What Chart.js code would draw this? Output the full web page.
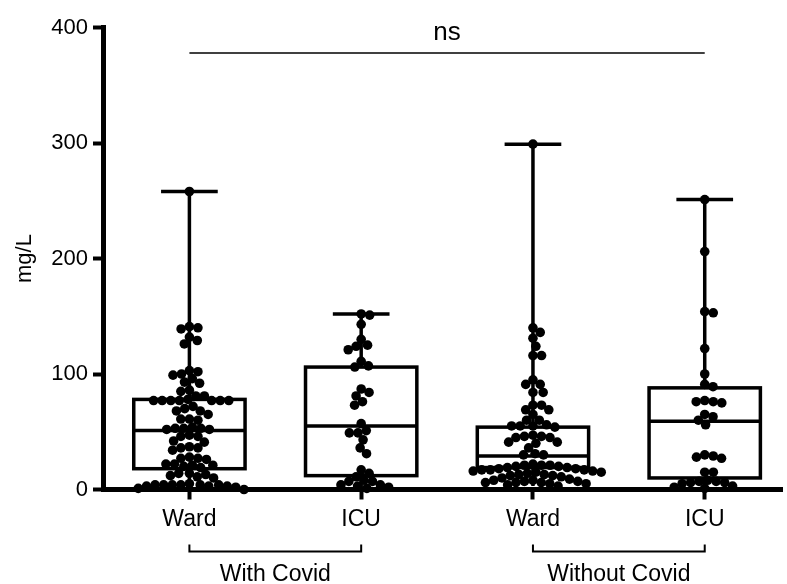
<!DOCTYPE html>
<html>
<head>
<meta charset="utf-8">
<script src="https://cdn.jsdelivr.net/npm/chart.js@4"></script>
<style>
  html, body { margin: 0; padding: 0; background: #fff; }
  #wrap { width: 787px; height: 584px; }
</style>
</head>
<body>
<div id="wrap"><canvas id="chart"></canvas></div>
<script>
const categories = ['Ward', 'ICU', 'Ward', 'ICU'];
const groupLabels = ['With Covid', 'Without Covid'];
const yTicks = [0, 100, 200, 300, 400];

// individual values (mg/L)
const wardCovid = [258, 141, 140, 139, 132, 129, 126, 103, 102, 100, 99, 96, 93, 92, 86, 85, 81, 81,
  78, 77, 77, 77, 77, 77, 77, 77, 72, 70, 68, 68, 65, 61, 61, 60, 54, 53, 53, 53, 52, 52, 47, 46,
  46, 42, 41, 37, 36, 36, 34, 28, 27, 27, 26, 22, 22, 21, 21, 20, 19, 14, 14, 13, 12, 11, 10, 5,
  4, 4, 4, 4, 4, 4, 3, 3, 3, 2, 1, 0];
const icuCovid = [152, 151, 143, 130, 125, 124, 121, 111, 107, 106, 87, 84, 81, 76, 73, 57, 51, 49,
  49, 43, 36, 31, 17, 14, 11, 8, 7, 7, 4, 4, 3, 2, 1];
const wardNoCovid = [299, 140, 136, 131, 124, 116, 116, 95, 91, 91, 84, 84, 73, 73, 69, 69, 65, 60,
  60, 56, 55, 55, 55, 54, 47, 46, 46, 45, 45, 41, 41, 40, 36, 31, 30, 30, 22, 21, 21, 21, 20, 20,
  19, 19, 18, 18, 17, 17, 17, 16, 16, 15, 15, 14, 13, 13, 12, 12, 11, 10, 9, 8, 8, 7, 7, 6, 6, 6,
  5, 5, 4, 3];
const icuNoCovid = [251, 206, 154, 153, 122, 100, 91, 89, 77, 76, 76, 75, 65, 63, 60, 56, 30, 29,
  28, 27, 15, 15, 8, 7, 7, 6, 6, 5, 3, 2, 1];

// box summary per category
const boxMin = [0, 0, 3, 0];
const boxQ1 = [18, 12, 19, 10];
const boxMedian = [51, 55, 29, 59];
const boxQ3 = [78, 106, 54, 88];
const boxMax = [258, 152, 299, 251];

const sigLevel = 378;
const sigText = 'ns';

const groups = [wardCovid, icuCovid, wardNoCovid, icuNoCovid];
const FONT = '"Liberation Sans", Arial, Helvetica, sans-serif';

const boxPlugin = {
  id: 'boxes',
  beforeDatasetsDraw(chart) {
    const { ctx, scales: { x, y } } = chart;
    ctx.save();
    ctx.strokeStyle = '#000';
    ctx.lineWidth = 3.5;
    categories.forEach((_, i) => {
      const c = x.getPixelForValue(i + 1);
      const half = x.getPixelForValue(i + 1.324) - c;
      const cap = x.getPixelForValue(i + 1.165) - c;
      const q1 = y.getPixelForValue(boxQ1[i]);
      const q3 = y.getPixelForValue(boxQ3[i]);
      const md = y.getPixelForValue(boxMedian[i]);
      const lo = y.getPixelForValue(boxMin[i]);
      const hi = y.getPixelForValue(boxMax[i]);
      ctx.strokeRect(c - half, q3, half * 2, q1 - q3);
      ctx.beginPath();
      ctx.moveTo(c - half, md); ctx.lineTo(c + half, md);
      ctx.moveTo(c, q3); ctx.lineTo(c, hi);
      ctx.moveTo(c - cap, hi); ctx.lineTo(c + cap, hi);
      ctx.moveTo(c, q1); ctx.lineTo(c, lo);
      ctx.stroke();
    });
    ctx.restore();
  },
  afterDraw(chart) {
    const { ctx, scales: { x, y } } = chart;
    ctx.save();
    ctx.strokeStyle = '#000';
    ctx.fillStyle = '#000';
    ctx.lineWidth = 1.5;
    // significance bar
    const sy = y.getPixelForValue(sigLevel);
    ctx.beginPath();
    ctx.moveTo(x.getPixelForValue(1), sy);
    ctx.lineTo(x.getPixelForValue(4), sy);
    ctx.stroke();
    ctx.font = '26px ' + FONT;
    ctx.textAlign = 'center';
    ctx.textBaseline = 'alphabetic';
    ctx.fillText(sigText, (x.getPixelForValue(1) + x.getPixelForValue(4)) / 2, sy - 13);
    // group brackets
    const by = chart.chartArea.bottom + 62;
    ctx.lineWidth = 2;
    ctx.font = '23px ' + FONT;
    groupLabels.forEach((label, g) => {
      const a = x.getPixelForValue(g * 2 + 1);
      const b = x.getPixelForValue(g * 2 + 2);
      ctx.beginPath();
      ctx.moveTo(a, by - 7); ctx.lineTo(a, by); ctx.lineTo(b, by); ctx.lineTo(b, by - 7);
      ctx.stroke();
      ctx.fillText(label, (a + b) / 2, by + 29);
    });
    ctx.restore();
  }
};

const chart = new Chart(document.getElementById('chart'), {
  type: 'scatter',
  data: {
    datasets: groups.map((vals, i) => ({
      data: vals.map((v) => ({ x: i + 1, y: v })),
      backgroundColor: '#000',
      borderColor: '#000',
      pointRadius: 4.8,
      borderWidth: 0,
      clip: false,
    })),
  },
  options: {
    responsive: true,
    maintainAspectRatio: false,
    animation: false,
    layout: { padding: { top: 27.5, right: 0, left: 0, bottom: 0 } },
    plugins: { legend: { display: false }, tooltip: { enabled: false } },
    scales: {
      x: {
        type: 'linear',
        min: 0.497,
        max: 4.451,
        afterBuildTicks: (scale) => { scale.ticks = [1, 2, 3, 4].map((v) => ({ value: v })); },
        afterFit: (scale) => { scale.height = 94.5; },
        ticks: {
          callback: (v, i) => categories[i],
          color: '#000',
          font: { family: FONT, size: 23 },
          padding: 6,
          maxRotation: 0,
        },
        grid: { display: true, drawOnChartArea: false, drawTicks: true, tickLength: 10, tickWidth: 4, color: '#000' },
        border: { display: true, width: 5, color: '#000' },
      },
      y: {
        min: 0,
        max: 400,
        afterBuildTicks: (scale) => { scale.ticks = yTicks.map((v) => ({ value: v })); },
        afterFit: (scale) => { scale.width = 103; },
        ticks: {
          color: '#000',
          font: { family: FONT, size: 22 },
          padding: 5,
        },
        grid: { display: true, drawOnChartArea: false, drawTicks: true, tickLength: 10, tickWidth: 4, color: '#000' },
        border: { display: true, width: 5, color: '#000' },
        title: { display: true, text: 'mg/L', color: '#000', font: { family: FONT, size: 22 }, padding: { top: 12, bottom: 0 } },
      },
    },
  },
  plugins: [boxPlugin],
});

// beeswarm: spread points sideways using the chart's own scales
function swarm(values, center) {
  const xs = chart.scales.x, ys = chart.scales.y;
  const unit = xs.getPixelForValue(2) - xs.getPixelForValue(1);
  const d = 8.6;
  const placed = [];
  return values.slice().sort((a, b) => b - a).map((v) => {
    const py = ys.getPixelForValue(v);
    const near = placed.filter((p) => Math.abs(p.y - py) < d);
    const cands = [0];
    near.forEach((p) => {
      const dx = Math.sqrt(d * d - (p.y - py) ** 2);
      cands.push(p.x + dx, p.x - dx);
    });
    cands.sort((a, b) => Math.abs(a) - Math.abs(b));
    const off = cands.find((c) => near.every((p) => Math.hypot(p.x - c, p.y - py) >= d - 0.01));
    placed.push({ x: off, y: py });
    return { x: center + off / unit, y: v };
  });
}
chart.data.datasets.forEach((ds, i) => { ds.data = swarm(groups[i], i + 1); });
chart.update('none');
</script>
</body>
</html>
